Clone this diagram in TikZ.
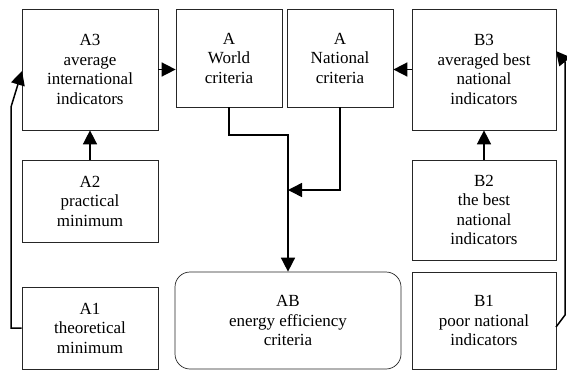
\documentclass[tikz,border=0pt]{standalone}
\usepackage{fontspec}
\setmainfont{Liberation Serif}
\newfontfamily\boxfont{Liberation Serif}
\usetikzlibrary{arrows.meta,calc}
\begin{document}
\begin{tikzpicture}[x=1pt,y=-1pt,
  box/.style={draw=black!85,line width=0.7pt,align=center,inner sep=0pt,
    font=\boxfont\fontsize{17}{19.5}\selectfont},
  arr/.style={line width=1.5pt,-{Triangle[length=14pt,width=14pt]}}]
\useasboundingbox (0,0) rectangle (567,370);
\node[box,minimum width=136,minimum height=121] (A3) at (90,69.5) {A3\\average\\international\\indicators};
\node[box,minimum width=106,minimum height=98] (AW) at (229,58) {A\\World\\criteria};
\node[box,minimum width=106,minimum height=98] (AN) at (340,58) {A\\National\\criteria};
\node[box,minimum width=144,minimum height=121] (B3) at (484,69.5) {B3\\averaged best\\national\\indicators};
\node[box,minimum width=136,minimum height=82] (A2) at (90,201) {A2\\practical\\minimum};
\node[box,minimum width=136,minimum height=82] (A1) at (90,328) {A1\\theoretical\\minimum};
\node[box,minimum width=144,minimum height=100] (B2) at (484,210) {B2\\the best\\national\\indicators};
\node[box,minimum width=144,minimum height=97] (B1) at (484,320.5) {B1\\poor national\\indicators};
\node[box,rounded corners=15pt,minimum width=226,minimum height=97] (AB) at (288,320.5) {AB\\energy efficiency\\criteria};
% connectors
\draw[arr] (A3.east) -- (A3.east -| AW.west);
\draw[arr] (B3.west) -- (B3.west -| AN.east);
\draw[arr] (A2.north) -- (A3.south);
\draw[arr] (B2.north) -- (B3.south);
\coordinate (j1) at (229,135);
\draw[arr] (AW.south) -- (j1) -| (AB.north);
\coordinate (j2) at (288,190);
\draw[arr] (AN.south) |- (j2);
\coordinate (l1) at (11,328);
\coordinate (l2) at (11,107);
\coordinate (l3) at (22,71);
\draw[arr] (A1.west) -- (l1) -- (l2) -- (l3);
\coordinate (r0) at (556,327);
\coordinate (r1) at (565,315);
\coordinate (r2) at (565,62);
\coordinate (r3) at (556,51);
\draw[arr] (r0) -- (r1) -- (r2) -- (r3);
\end{tikzpicture}
\end{document}
